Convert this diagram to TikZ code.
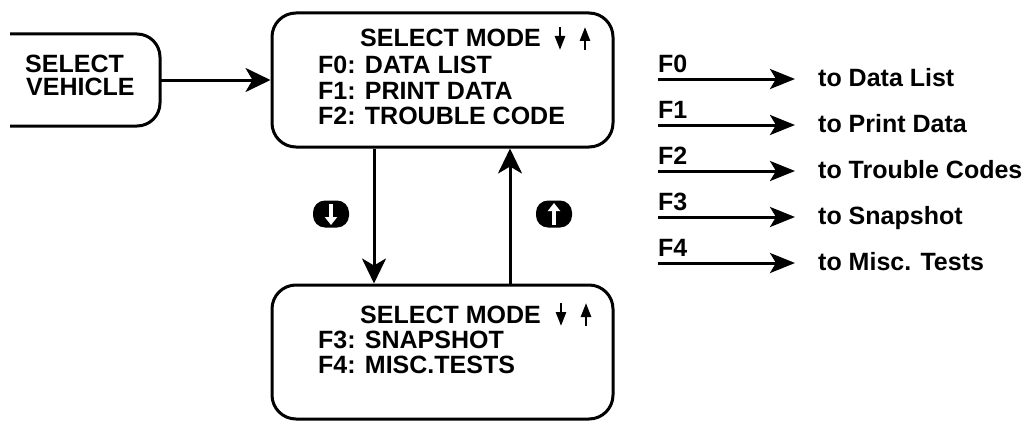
\documentclass[tikz,border=0pt]{standalone}
\usepackage{fontspec}
\setmainfont{Liberation Sans}
\usetikzlibrary{arrows.meta}
\begin{document}
\begin{tikzpicture}[x=1pt,y=-1pt,
  line/.style={line width=3pt},
  bigarrow/.style={line, -{Stealth[length=25pt,width=24pt,inset=7pt]}},
  rowarrow/.style={line, -{Stealth[length=25pt,width=20pt,inset=6pt]}},
  tinyarrow/.style={line width=2.6pt, -{Triangle[length=14pt,width=10pt]}},
  txt/.style={inner sep=0pt, anchor=base west, font=\fontsize{25}{25}\selectfont\bfseries},
  screen/.style={draw, line width=3pt, rounded corners=24pt, minimum width=341pt, minimum height=134pt, inner sep=0pt},
  icon/.style={fill=black, rounded corners=12pt, minimum width=36pt, minimum height=27pt, inner sep=0pt},
  iconarrow/.style={white, line width=3.2pt, -{Triangle[length=8pt,width=12pt]}},
]
\useasboundingbox (0,0) rectangle (1027,420);

% Select vehicle (open box)
\draw[line, rounded corners=23pt] (10,34) -- (160,34) -- (160,126) -- (10,126);
\node[inner sep=0pt, minimum width=150pt, minimum height=92pt] (sv) at (85,80) {};
\node[txt] (sv1) at (25,72) {SELECT};
\node[txt] (sv2) at (26,95) {VEHICLE};

% top screen
\node[screen] (top) at (442.5,80) {};
\node[txt] (t0) at (360,47) {SELECT MODE};
\node[txt] (t1) at (318,74) {F0: DATA LIST};
\node[txt] (t2) at (318,99) {F1: PRINT DATA};
\node[txt] (t3) at (318,124) {F2: TROUBLE CODE};
\coordinate (td1) at (560,27); \coordinate (td2) at (560,50);
\coordinate (tu1) at (585,50); \coordinate (tu2) at (585,27);
\draw[tinyarrow] (td1) -- (td2);
\draw[tinyarrow] (tu1) -- (tu2);

% bottom screen
\node[screen] (bot) at (442.5,352) {};
\node[txt] (b0) at (360,323) {SELECT MODE};
\node[txt] (b1) at (318,348) {F3: SNAPSHOT};
\node[txt] (b2) at (318,373) {F4: MISC.TESTS};
\coordinate (bd1) at (561,303); \coordinate (bd2) at (561,326);
\coordinate (bu1) at (586,326); \coordinate (bu2) at (586,303);
\draw[tinyarrow] (bd1) -- (bd2);
\draw[tinyarrow] (bu1) -- (bu2);

% connectors
\draw[bigarrow] (sv.east) -- (top.west);
\coordinate (dn) at (374,0);
\coordinate (up) at (510,0);
\draw[bigarrow] (top.south -| dn) -- (bot.north -| dn);
\draw[bigarrow] (bot.north -| up) -- (top.south -| up);

% key icons
\node[icon] (kdn) at (331,214) {};
\node[icon] (kup) at (554,214) {};
\coordinate (kdn1) at (331,204); \coordinate (kdn2) at (331,225);
\coordinate (kup1) at (554,225); \coordinate (kup2) at (554,203);
\draw[iconarrow] (kdn1) -- (kdn2);
\draw[iconarrow] (kup1) -- (kup2);

% right-hand key list
\foreach \i/\k/\t in {0/F0/to Data List,1/F1/to Print Data,2/F2/to Trouble Codes,3/F3/to Snapshot,4/F4/to Misc. Tests}{
  \pgfmathsetmacro{\yy}{79+46*\i}
  \coordinate (ra\i) at (658,\yy);
  \coordinate (rb\i) at (795,\yy);
  \draw[rowarrow] (ra\i) -- (rb\i);
  \node[txt] (rk\i) at (658,\yy-7) {\k};
  \node[txt] (rt\i) at (818,\yy+7) {\t};
}
\end{tikzpicture}
\end{document}
